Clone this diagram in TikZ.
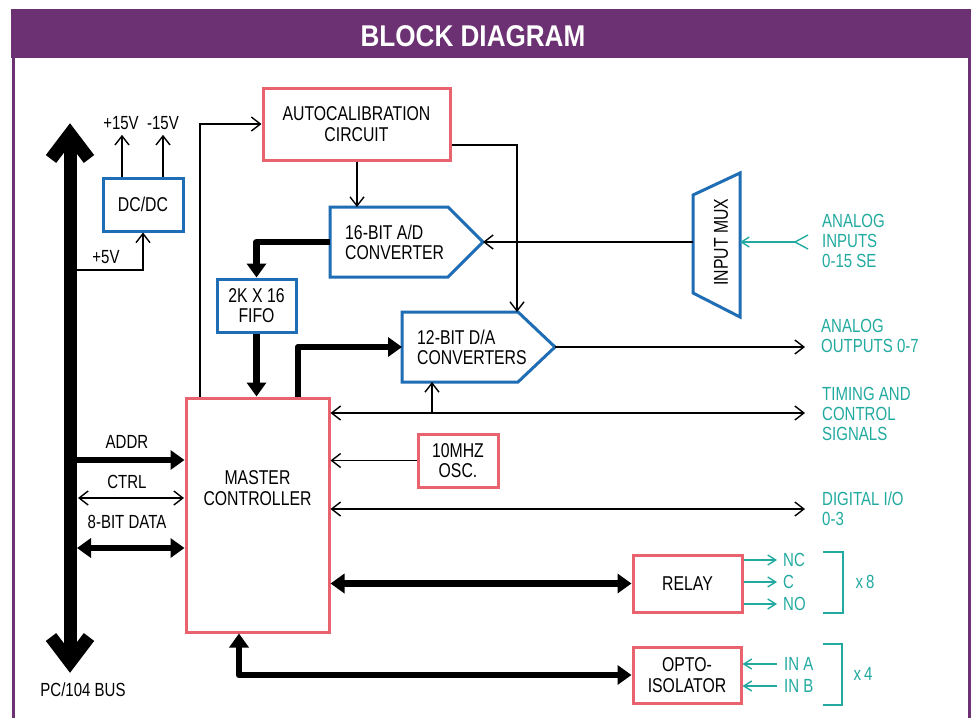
\documentclass[tikz,border=0pt]{standalone}
\usepackage{fontspec}
\setmainfont{Liberation Sans}[FakeStretch=0.79]
\newfontfamily\dgtitlefont{Liberation Sans}[FakeStretch=0.87]
\usetikzlibrary{arrows.meta}
\definecolor{purplec}{HTML}{6B3172}
\definecolor{pinkc}{HTML}{E8636E}
\definecolor{bluec}{HTML}{1F6DB5}
\definecolor{tealc}{HTML}{22AAA0}
\newcommand{\dgboxfont}{\fontsize{20}{20.5}\selectfont}
\newcommand{\dglblfont}{\fontsize{19}{20}\selectfont}
\begin{document}
\begin{tikzpicture}[x=1pt,y=-1pt,
  pinkbox/.style={draw=pinkc, line width=3pt, fill=white, inner sep=0pt, align=center, font=\dgboxfont},
  bluebox/.style={draw=bluec, line width=3pt, fill=white, inner sep=0pt, align=center, font=\dgboxfont},
  lbl/.style={inner sep=0pt, font=\dglblfont, align=center},
  tlbl/.style={inner sep=0pt, font=\dglblfont, text=tealc, align=left, anchor=west},
  thinln/.style={line width=1.4pt},
  oarr/.style={thinln, -{Straight Barb[length=9pt,width=14pt]}},
  oarrs/.style={thinln, {Straight Barb[length=9pt,width=14pt]}-{Straight Barb[length=9pt,width=14pt]}},
  tarr/.style={thinln, draw=tealc, -{Straight Barb[length=8pt,width=10pt]}},
  tline/.style={thinln, draw=tealc},
  fat/.style={line width=6.5pt, line join=round},
  farr/.style={fat, -{Triangle[length=14pt,width=19pt]}},
  farrs/.style={fat, {Triangle[length=14pt,width=19pt]}-{Triangle[length=14pt,width=19pt]}},
  busln/.style={line width=13pt, line join=miter},
]
\useasboundingbox (0,0) rectangle (971,718);
\fill[white] (0,0) rectangle (971,718);
% title bar and frame
\fill[purplec] (11,9) rectangle (971,58);
\draw[purplec, line width=3pt] (13,58) -- (13,718);
\draw[purplec, line width=3pt] (969,58) -- (969,718);
\node[text=white, font=\dgtitlefont\bfseries\fontsize{30}{30}\selectfont, inner sep=0pt] (title) at (473,36) {BLOCK DIAGRAM};

% PC/104 bus
\draw[busln] (51,159) -- (70,134) -- (89,159);
\draw[busln] (70,134) -- (70,662);
\draw[busln] (51,637) -- (70,662) -- (89,637);
\node[lbl] (buslbl) at (83,690) {PC/104 BUS};

% boxes
\node[bluebox, minimum width=80pt, minimum height=53pt] (dcdc) at (143,204.5) {DC/DC};
\node[pinkbox, minimum width=187pt, minimum height=72pt] (autocal) at (356.5,124) {AUTOCALIBRATION\\CIRCUIT};
\node[bluebox, minimum width=79pt, minimum height=53pt] (fifo) at (256.5,305.5) {2K X 16\\FIFO};
\node[pinkbox, minimum width=143pt, minimum height=234pt,
  label={[font=\dgboxfont, align=center, yshift=27pt]center:MASTER\\CONTROLLER}] (master) at (257.5,515) {};
\node[pinkbox, minimum width=80pt, minimum height=53pt] (osc) at (458,460.5) {10MHZ\\OSC.};
\node[pinkbox, minimum width=109pt, minimum height=57pt] (relay) at (687.5,583.5) {RELAY};
\node[pinkbox, minimum width=108pt, minimum height=56pt] (opto) at (687,675) {OPTO-\\ISOLATOR};

% A/D converter
\draw[bluec, line width=3pt, fill=white] (330,207) -- (448,207) -- (483,242) -- (448,277) -- (330,277) -- cycle;
\coordinate (adL) at (330,242);
\coordinate (adT) at (483,242);
\coordinate (adin) at (357,207);
\node[inner sep=0pt, font=\dgboxfont, align=left, anchor=west] (adtext) at (345,242.5) {16-BIT A/D\\CONVERTER};

% D/A converters
\draw[bluec, line width=3pt, fill=white] (402,312) -- (518,312) -- (555,347) -- (518,382) -- (402,382) -- cycle;
\coordinate (daL) at (402,347);
\coordinate (daT) at (555,347);
\coordinate (dain) at (517,312);
\coordinate (dab) at (432,382);
\node[inner sep=0pt, font=\dgboxfont, align=left, anchor=west] (datext) at (417,347.5) {12-BIT D/A\\CONVERTERS};

% input mux
\draw[bluec, line width=3pt, fill=white] (693,195) -- (740,173) -- (740,317) -- (693,293) -- cycle;
\coordinate (muxL) at (693,242);
\coordinate (muxR) at (740,242);
\node[inner sep=0pt, font=\dgboxfont, rotate=90] (muxtext) at (721,242) {INPUT MUX};

% right side labels
\node[tlbl] (ain) at (822,241) {ANALOG\\INPUTS\\0-15 SE};
\node[tlbl] (aout) at (821,336) {ANALOG\\OUTPUTS 0-7};
\node[tlbl] (tim) at (822,414) {TIMING AND\\CONTROL\\SIGNALS};
\node[tlbl] (dio) at (822,508.5) {DIGITAL I/O\\0-3};
\node[tlbl] (nc) at (783,560) {NC};
\node[tlbl] (cc) at (783,582) {C};
\node[tlbl] (no) at (783,604) {NO};
\node[tlbl] (ina) at (784,664) {IN A};
\node[tlbl] (inb) at (784,686) {IN B};
\node[lbl, text=tealc] (x8) at (865,582) {x\,8};
\node[lbl, text=tealc] (x4) at (863,674) {x\,4};

% left labels
\node[lbl] (p15) at (121,123) {+15V};
\node[lbl] (m15) at (163,123) {-15V};
\node[lbl] (p5) at (106,257) {+5V};
\node[lbl] (addr) at (127,442) {ADDR};
\node[lbl] (ctrl) at (127,482) {CTRL};
\node[lbl] (data) at (127,522) {8-BIT DATA};

% coordinates
\coordinate (acfeed) at (200,123);
\coordinate (bus5) at (77,270);
\coordinate (addrL) at (77,460);
\coordinate (ctrlL) at (78,498);
\coordinate (ctrlR) at (184,498);
\coordinate (dataL) at (77,548);
\coordinate (aoutE) at (805,347);
\coordinate (timE) at (805,413);
\coordinate (dioE) at (805,509);
\coordinate (ainE) at (795,242);
\coordinate (relout) at (777,0);
\coordinate (optin) at (777,0);

% power connectors
\draw[oarr] (dcdc.north -| 122,0) -- ([yshift=-5pt]p15.south -| 122,0);
\draw[oarr] (dcdc.north -| m15) -- ([yshift=-5pt]m15.south);
\draw[oarr] (bus5) -| (dcdc.south);

% autocal connectors
\draw[oarr] (master.north -| acfeed) |- (autocal.west);
\draw[oarr] (autocal.south -| adin) -- (adin);
\draw[oarr] ([yshift=-21pt]autocal.east) -| (dain);

% converters
\draw[oarr] (muxL) -- (adT);
\draw[farr] (adL) -| (fifo.north);
\draw[farr] (fifo.south) -- (fifo.south |- master.north);
\draw[farr] ([xshift=40.5pt]master.north) |- (daL);
\draw[oarr] (daT) -- (aoutE);

% analog input
\draw[tarr] (ainE) -- (muxR);
\draw[tline] (808,235) -- (ainE) -- (808,249);

% timing, osc, digital
\draw[oarrs] (master.east |- timE) -- (timE);
\draw[oarr] (dab |- timE) -- (dab);
\draw[oarr] (osc.west) -- (master.east |- osc.west);
\draw[oarrs] (master.east |- dioE) -- (dioE);

% relay and opto
\draw[farrs] (master.east |- relay.west) -- (relay.west);
\draw[farrs] ([xshift=-18.5pt]master.south) |- (opto.west);

% relay outputs
\draw[tarr] (relay.east |- nc) -- (relout |- nc);
\draw[tarr] (relay.east |- cc) -- (relout |- cc);
\draw[tarr] (relay.east |- no) -- (relout |- no);
\draw[tline] (823,552) -- (843,552) -- (843,613) -- (823,613);

% opto inputs
\draw[tarr] (optin |- ina) -- (opto.east |- ina);
\draw[tarr] (optin |- inb) -- (opto.east |- inb);
\draw[tline] (823,644) -- (842,644) -- (842,705) -- (823,705);

% bus branches
\draw[farr] (addrL) -- (master.west |- addrL);
\draw[oarrs] (ctrlL) -- (ctrlR);
\draw[farrs] (dataL) -- (master.west |- dataL);
\end{tikzpicture}
\end{document}
